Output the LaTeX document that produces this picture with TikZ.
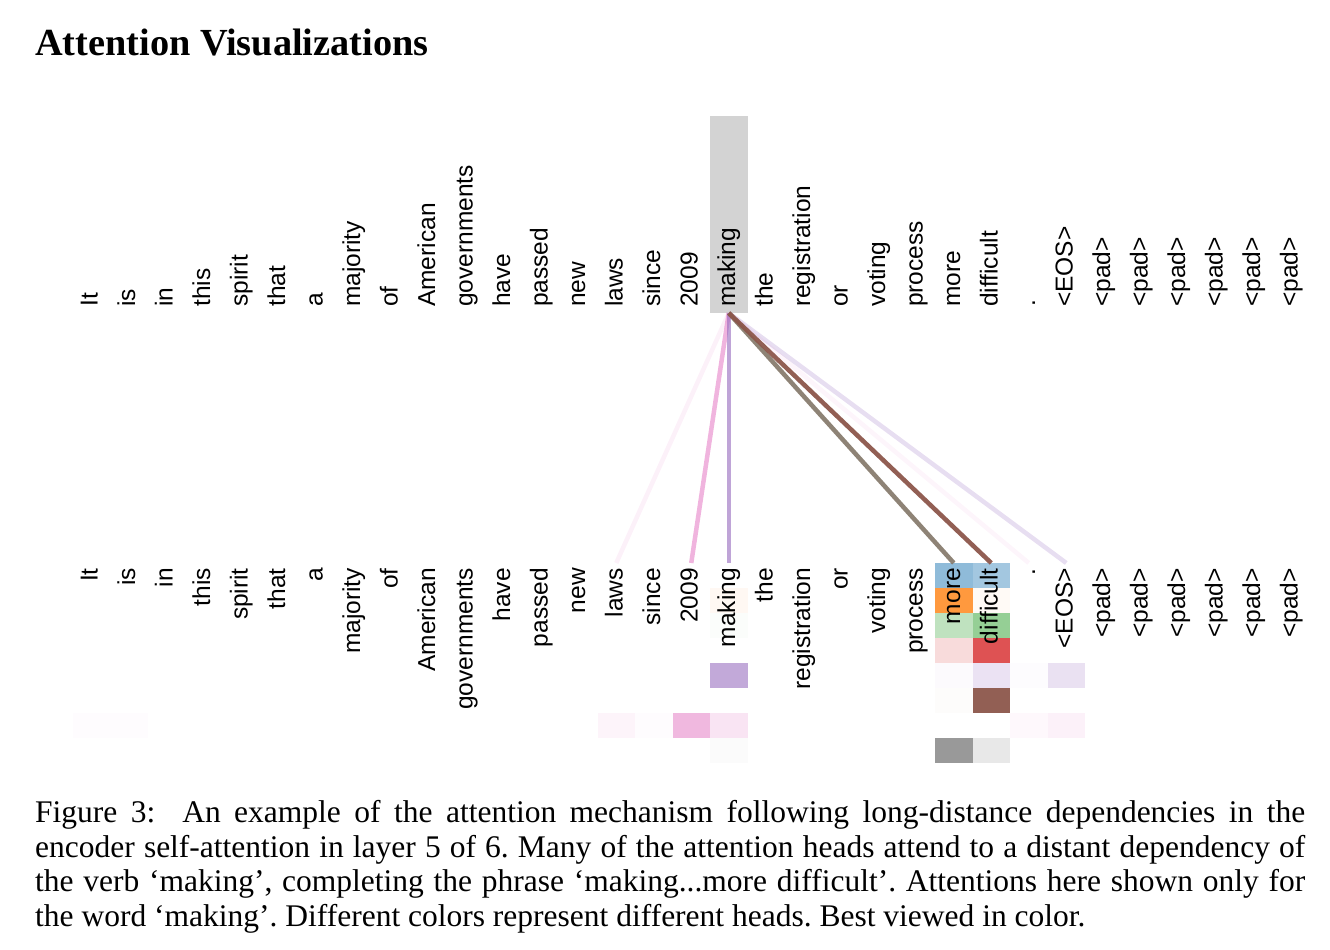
\documentclass[tikz,border=0pt]{standalone}
\usepackage{fontspec}
\setmainfont{Liberation Serif}
\newfontfamily\tokfont{Liberation Sans}
\usetikzlibrary{positioning}

\definecolor{hblue}{HTML}{1F77B4}
\definecolor{horange}{HTML}{FF7F0E}
\definecolor{hgreen}{HTML}{2CA02C}
\definecolor{hred}{HTML}{D62728}
\definecolor{hpurple}{HTML}{9467BD}
\definecolor{hbrown}{HTML}{8C564B}
\definecolor{hpink}{HTML}{E377C2}
\definecolor{hgray}{HTML}{7F7F7F}
\definecolor{hlgray}{HTML}{D3D3D3}

\begin{document}
\begin{tikzpicture}[x=1pt,y=-1pt,
  tok/.style={rotate=90,inner sep=0pt,font=\tokfont\fontsize{24.5}{24.5}\selectfont,text height=17.6pt,text depth=5.1pt},
  attn/.style={line width=4.5pt}]
\useasboundingbox (0,0) rectangle (1330,950);

\node[anchor=base west,inner sep=0pt,font=\bfseries\fontsize{38.3}{38.3}\selectfont] (title) at (35,56) {Attention Visualizations};

% query word highlight
\node[fill=hlgray,minimum width=37.5pt,minimum height=197pt,inner sep=0pt,anchor=south] (hl) at (728.75,313) {};

% head weights: column/row/colour/weight
\foreach \c/\r/\hc/\w in {24/1/hblue/.5, 25/1/hblue/.41,
    18/2/horange/.05, 24/2/horange/.8, 25/2/horange/.04,
    18/3/hgreen/.02, 24/3/hgreen/.3, 25/3/hgreen/.5,
    24/4/hred/.17, 25/4/hred/.8,
    18/5/hpurple/.57, 24/5/hpurple/.03, 25/5/hpurple/.19, 26/5/hpurple/.02, 27/5/hpurple/.2,
    24/6/hbrown/.02, 25/6/hbrown/.95,
    1/7/hpink/.02, 2/7/hpink/.02, 15/7/hpink/.08, 16/7/hpink/.02, 17/7/hpink/.52, 18/7/hpink/.2, 26/7/hpink/.05, 27/7/hpink/.1,
    18/8/hgray/.03, 24/8/hgray/.8, 25/8/hgray/.18}
  \fill[\hc,fill opacity=\w] ({35+37.5*\c},{538+25*\r}) rectangle +(37.5,25);

\foreach \w [count=\i] in {It,is,in,this,spirit,that,a,majority,of,American,governments,have,passed,new,laws,since,2009,making,the,registration,or,voting,process,more,difficult,.,<EOS>,<pad>,<pad>,<pad>,<pad>,<pad>,<pad>}{
  \node[tok,anchor=west] (t\i) at ({53.75+37.5*\i},307) {\w};
  \node[tok,anchor=east] (b\i) at ({53.75+37.5*\i},568) {\w};
  \coordinate (e\i) at ({53.75+37.5*\i},563);
}

\foreach \c/\hc/\w in {15/hpink/.1, 26/hpink/.07, 27/hpurple/.22, 17/hpink/.55, 18/hpurple/.6, 24/hgray!75!hbrown!90!olive/.9, 25/hbrown/.95}
  \draw[attn,\hc,draw opacity=\w] (hl.south) -- (e\c);

\node[anchor=north west,inner sep=0pt,text width=1270pt,align=justify,font=\fontsize{31.5}{34.7}\selectfont\frenchspacing] (cap) at (35,800)
  {Figure 3:\ \ An example of the attention mechanism following long-distance dependencies in the\linebreak
   encoder self-attention in layer 5 of 6. Many of the attention heads attend to a distant dependency of\linebreak
   the verb ‘making’, completing the phrase ‘making...more difficult’. Attentions here shown only for\linebreak
   the word ‘making’. Different colors represent different heads. Best viewed in color.};
\end{tikzpicture}
\end{document}
